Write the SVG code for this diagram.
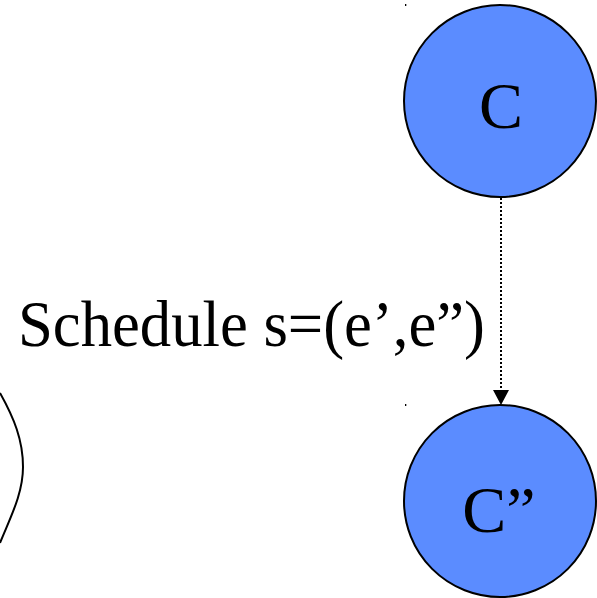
<svg xmlns="http://www.w3.org/2000/svg" width="597" height="598" viewBox="0 0 597 598">
  <style>
    .state { fill: #5b8cff; stroke: #000; stroke-width: 2; }
    .label { font-family: "Liberation Serif", "Times New Roman", serif; fill: #000; }
    .edge { fill: none; stroke: #000; stroke-width: 2; stroke-dasharray: 2 2; }
  </style>
  <rect width="597" height="598" fill="#fff"/>

  <!-- partial curve at the left edge -->
  <path d="M0,393 C14,418 23,440 23,467 C23,494 10,518 0,543" fill="none" stroke="#000" stroke-width="2"/>

  <!-- small corner ticks -->
  <rect x="405" y="4" width="1.3" height="2" fill="#000"/>
  <rect x="405" y="404" width="1.3" height="2" fill="#000"/>

  <g id="connectors">
    <line class="edge" x1="501" y1="198" x2="501" y2="390"/>
    <path d="M493,390 L509,390 L501,405 Z" fill="#000"/>
  </g>

  <g id="node-C">
    <circle class="state" cx="500" cy="101" r="96"/>
    <text class="label" x="501" y="128" font-size="66" text-anchor="middle">C</text>
  </g>

  <g id="node-C2">
    <circle class="state" cx="500" cy="501" r="96"/>
    <text class="label" x="499" y="532" font-size="66" text-anchor="middle">C”</text>
  </g>

  <text class="label" x="18" y="346" font-size="65" textLength="467" lengthAdjust="spacingAndGlyphs">Schedule s=(e’,e”)</text>
</svg>
